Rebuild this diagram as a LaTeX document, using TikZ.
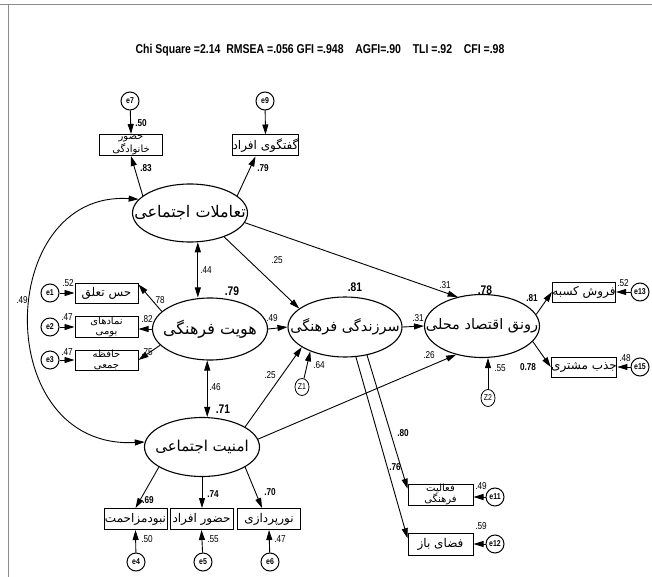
\documentclass[tikz,border=0pt]{standalone}
\usepackage{fontspec}
\setmainfont{Liberation Sans}
\newfontfamily\narrowf{Liberation Sans}[FakeStretch=0.82]
\newfontfamily\arabicfont[Script=Arabic]{DejaVu Sans}
\TeXXeTstate=1
\usetikzlibrary{arrows.meta,calc,shapes.geometric}
\tikzset{
  lat/.style={ellipse, draw, line width=1.1pt, inner sep=0pt, minimum width=115pt, minimum height=60pt},
  lattext/.style={inner sep=0pt, font=\arabicfont\fontsize{#1}{#1}\selectfont},
  obs/.style={rectangle, draw, line width=1pt, minimum width=63pt, minimum height=21pt, inner sep=0pt, align=center, font=\arabicfont\fontsize{12}{12}\selectfont},
  obs2/.style={obs, font=\arabicfont\fontsize{10}{10.5}\selectfont},
  err/.style={circle, draw, line width=1pt, minimum size=18pt, inner sep=0pt, font=\narrowf\bfseries\fontsize{8.5}{8.5}\selectfont},
  zet/.style={ellipse, draw, line width=0.8pt, minimum width=14pt, minimum height=17pt, inner sep=0pt, font=\narrowf\fontsize{8.5}{8.5}\selectfont},
  tip/.tip={Triangle[length=10pt,width=6pt]},
  arr/.style={line width=0.9pt, -tip},
  darr/.style={line width=0.9pt, tip-tip},
  num/.style={font=\narrowf\fontsize{10}{10}\selectfont, inner sep=0pt},
  bnum/.style={font=\narrowf\bfseries\fontsize{10}{10}\selectfont, inner sep=0pt},
  rsq/.style={font=\narrowf\bfseries\fontsize{12.5}{12.5}\selectfont, inner sep=0pt},
  frame/.style={draw=black!45, line width=0.8pt}
}
\begin{document}
\begin{tikzpicture}[x=1pt,y=-1pt]
\useasboundingbox (0,0) rectangle (652,577);
\fill[white] (0,0) rectangle (652,577);
\coordinate (ftl) at (8,4);
\coordinate (ftr) at (652,4);
\coordinate (fbl) at (8,577);
\coordinate (ftl0) at (0,4);
\draw[frame] (ftl0) -- (ftr);
\draw[frame] (ftl) -- (fbl);

% title
\node[font=\narrowf\bfseries\fontsize{12.8}{12.8}\selectfont, inner sep=0pt] (title) at (320,50)
  {Chi Square =2.14\ \ RMSEA =.056 GFI =.948\ \ \ \ AGFI=.90\ \ \ \ TLI =.92\ \ \ \ CFI =.98};

% latent variables
\node[lat, minimum height=58pt, label={[lattext=16]center:{\beginR تعاملات اجتماعی\endR}}] (L1) at (190,213) {};
\node[lat, minimum height=62pt, label={[lattext=16]center:{\beginR هویت فرهنگی\endR}}] (L2) at (210,329) {};
\node[lat, minimum height=59pt, label={[lattext=15]center:{\beginR امنیت اجتماعی\endR}}] (L3) at (202,447) {};
\node[lat, minimum width=114pt, label={[lattext=14.5]center:{\beginR سرزندگی فرهنگی\endR}}] (L4) at (345,327) {};
\node[lat, minimum height=63pt, label={[lattext=14.5]center:{\beginR رونق اقتصاد محلی\endR}}] (L5) at (482,326) {};

% observed: top
\node[obs2] (b7) at (131,145) {\beginR حضور\endR\\\beginR خانوادگی\endR};
\node[obs] (b9) at (265.5,145.5) {\beginR گفتگوی افراد\endR};
\node[err] (e7) at (130,101) {e7};
\node[err] (e9) at (265,101) {e9};

% observed: left
\node[obs, minimum height=20pt] (b1) at (106.5,293) {\beginR حس تعلق\endR};
\node[obs2, minimum height=20pt] (b2) at (106.5,327) {\beginR نمادهای\endR\\\beginR بومی\endR};
\node[obs2, minimum height=20pt] (b3) at (106.5,360) {\beginR حافظه\endR\\\beginR جمعی\endR};
\node[err] (e1) at (50,293) {e1};
\node[err] (e2) at (50,327) {e2};
\node[err] (e3) at (50,360) {e3};

% observed: bottom
\node[obs] (bN1) at (135.5,519) {\beginR نبودمزاحمت\endR};
\node[obs] (bN2) at (201.5,519) {\beginR حضور افراد\endR};
\node[obs] (bN3) at (269,519) {\beginR نورپردازی\endR};
\node[err] (e4) at (136,562) {e4};
\node[err] (e5) at (203,562) {e5};
\node[err] (e6) at (270,562) {e6};

% observed: bottom right
\node[obs2, minimum width=65pt] (bA) at (440.5,494.5) {\beginR فعالیت\endR\\\beginR فرهنگی\endR};
\node[obs, minimum width=65pt, minimum height=22pt] (bF) at (440.5,544) {\beginR فضای باز\endR};
\node[err] (e11) at (495,497) {e11};
\node[err] (e12) at (495,544) {e12};

% observed: right
\node[obs, minimum width=62pt, minimum height=20pt] (bR1) at (584,292) {\beginR فروش کسبه\endR};
\node[obs, minimum width=62pt, minimum height=20pt] (bR2) at (584,367) {\beginR جذب مشتری\endR};
\node[err] (e13) at (640,292) {e13};
\node[err] (e15) at (640,367) {e15};

% disturbances
\node[zet] (Z1) at (302,387) {Z1};
\node[zet] (Z2) at (488,398) {Z2};

% measurement arrows
\draw[arr] (L1.160) -- (b7.south);
\draw[arr] (L1.20) -- ($(b9.south)+(-10,0)$);
\draw[arr] (e7) -- (b7.north);
\draw[arr] (e9) -- (b9.north);

\draw[arr] (L2.160) -- (b1.15);
\draw[arr] (L2.west) -- (L2.west -| b2.east);
\draw[arr] (L2.198) -- (b3.east);
\draw[arr] (e1) -- (b1.west);
\draw[arr] (e2) -- (b2.west);
\draw[arr] (e3) -- (b3.west);

\draw[arr] (L3.205) -- (bN1.north);
\draw[arr] (L3.south) -- (L3.south |- bN2.north);
\draw[arr] (L3.-25) -- ($(bN3.north)+(-7,0)$);
\draw[arr] (e4) -- (bN1.south);
\draw[arr] (e5) -- (bN2.south);
\draw[arr] (e6) -- (bN3.south);

\draw[arr] (L4.-52) -- (bA.170);
\draw[arr] (L4.-70) -- (bF.170);
\draw[arr] (e11) -- (e11 -| bA.east);
\draw[arr] (e12) -- (bF.east);

\draw[arr] (L5.12) -- (bR1.west);
\draw[arr] (L5.-17) -- (bR2.west);
\draw[arr] (e13) -- (bR1.east);
\draw[arr] (e15) -- (bR2.east);

% structural arrows
\draw[darr] (L1.-75) -- (L1.-75 |- L2.north);
\draw[darr] (L2.-95) -- (L2.-95 |- L3.north);
\draw[darr] (L1.165) .. controls (-5,190) and (-10,450) .. (L3.175);
\draw[arr] (L1.-35) -- (L4.158);
\draw[arr] (L1.-10) -- (L5.130);
\draw[arr] (L2.east) -- (L4.west);
\draw[arr] (L3.25) -- (L4.205);
\draw[arr] (L3.8) -- (L5.228);
\draw[arr] (L4.east) -- (L5.west);
\draw[arr] (Z1) -- (L4.215);
\draw[arr] (Z2) -- (Z2 |- L5.south);

% coefficient labels
\node[bnum] (n1) at (141,123) {.50};
\node[bnum] (n2) at (146,168) {.83};
\node[bnum] (n3) at (263,168) {.79};
\node[num] (n4) at (206,270) {.44};
\node[num] (n5) at (277,260) {.25};
\node[num] (n6) at (445,285) {.31};
\node[rsq] (r1) at (232,291) {.79};
\node[rsq] (r2) at (355,287) {.81};
\node[rsq] (r3) at (485,290) {.78};
\node[rsq] (r4) at (223,409) {.71};
\node[num] (n7) at (68,283) {.52};
\node[num] (n8) at (67,317) {.47};
\node[num] (n9) at (67,352) {.47};
\node[num] (n10) at (159,300) {.78};
\node[num] (n11) at (147,319) {.82};
\node[num] (n12) at (147,352) {.75};
\node[num] (n13) at (22,300) {.49};
\node[num] (n14) at (272,318) {.49};
\node[num] (n15) at (418,318) {.31};
\node[num] (n16) at (270,375) {.25};
\node[num] (n17) at (319,365) {.64};
\node[num] (n18) at (429,355) {.26};
\node[num] (n19) at (500,368) {.55};
\node[bnum] (n20) at (532,298) {.81};
\node[bnum] (n21) at (528,367) {0.78};
\node[num] (n22) at (623,283) {.52};
\node[num] (n23) at (625,358) {.48};
\node[num] (n24) at (215,387) {.46};
\node[bnum] (n25) at (148,500) {.69};
\node[bnum] (n26) at (213,494) {.74};
\node[bnum] (n27) at (270,492) {.70};
\node[num] (n28) at (147,539) {.50};
\node[num] (n29) at (213,539) {.55};
\node[num] (n30) at (280,539) {.47};
\node[bnum] (n31) at (403,433) {.80};
\node[bnum] (n32) at (395,467) {.76};
\node[num] (n33) at (481,486) {.49};
\node[num] (n34) at (481,526) {.59};
\end{tikzpicture}
\end{document}
